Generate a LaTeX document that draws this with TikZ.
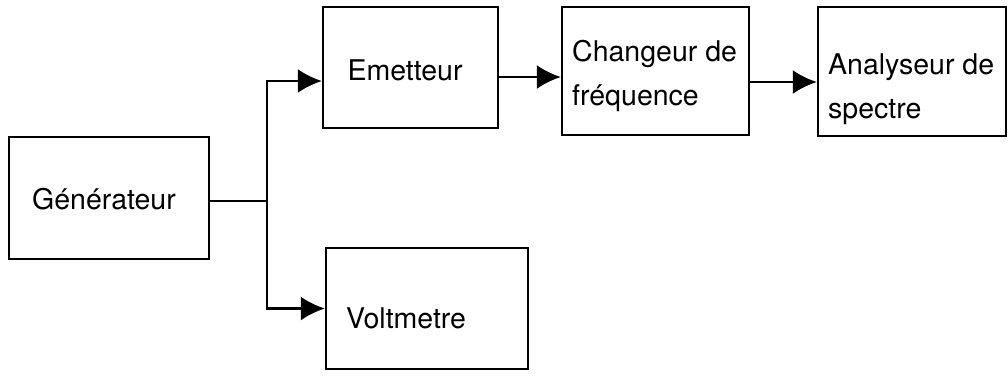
\documentclass[tikz,border=0pt]{standalone}
\usepackage{fontspec}
\setmainfont{TeX Gyre Heros}
\usetikzlibrary{arrows.meta}
\begin{document}
\begin{tikzpicture}[x=1pt,y=-1pt,
  box/.style={draw, line width=2.4pt, inner sep=0pt, rectangle},
  lbl/.style={inner sep=0pt, font=\fontsize{28.5}{44}\selectfont, align=left},
  conn/.style={line width=2.4pt},
  arr/.style={conn, -{Latex[length=24pt,width=24pt]}}]
\useasboundingbox (0,0) rectangle (1008,376);
\node[box, minimum width=200, minimum height=122] (gen) at (109,198) {};
\node[box, minimum width=175, minimum height=121] (emet) at (410.5,67.5) {};
\node[box, minimum width=187, minimum height=128] (chg) at (655.5,71) {};
\node[box, minimum width=188, minimum height=129] (ana) at (912,71.5) {};
\node[box, minimum width=202, minimum height=121] (volt) at (427,308.5) {};
\node[lbl] (tgen) at (104,199) {Générateur};
\node[lbl] (temet) at (405,70) {Emetteur};
\node[lbl, anchor=west] (tchg) at (572,76) {Changeur de\\fréquence};
\node[lbl, anchor=west] (tana) at (828,89) {Analyseur de\\spectre};
\node[lbl, anchor=west] (tvolt) at (346,318) {Voltmetre};
\coordinate (split) at (267,201);
\draw[conn] ([yshift=-3pt]gen.east) -- (split);
\draw[arr] (split) |- ([yshift=-13.5pt]emet.west);
\draw[arr] (split) |- (volt.west);
\draw[arr] ([yshift=-9.5pt]emet.east) -- ([yshift=-9.5pt]emet.east -| chg.west);
\draw[arr] ([yshift=-11pt]chg.east) -- ([yshift=-11pt]chg.east -| ana.west);
\end{tikzpicture}
\end{document}
